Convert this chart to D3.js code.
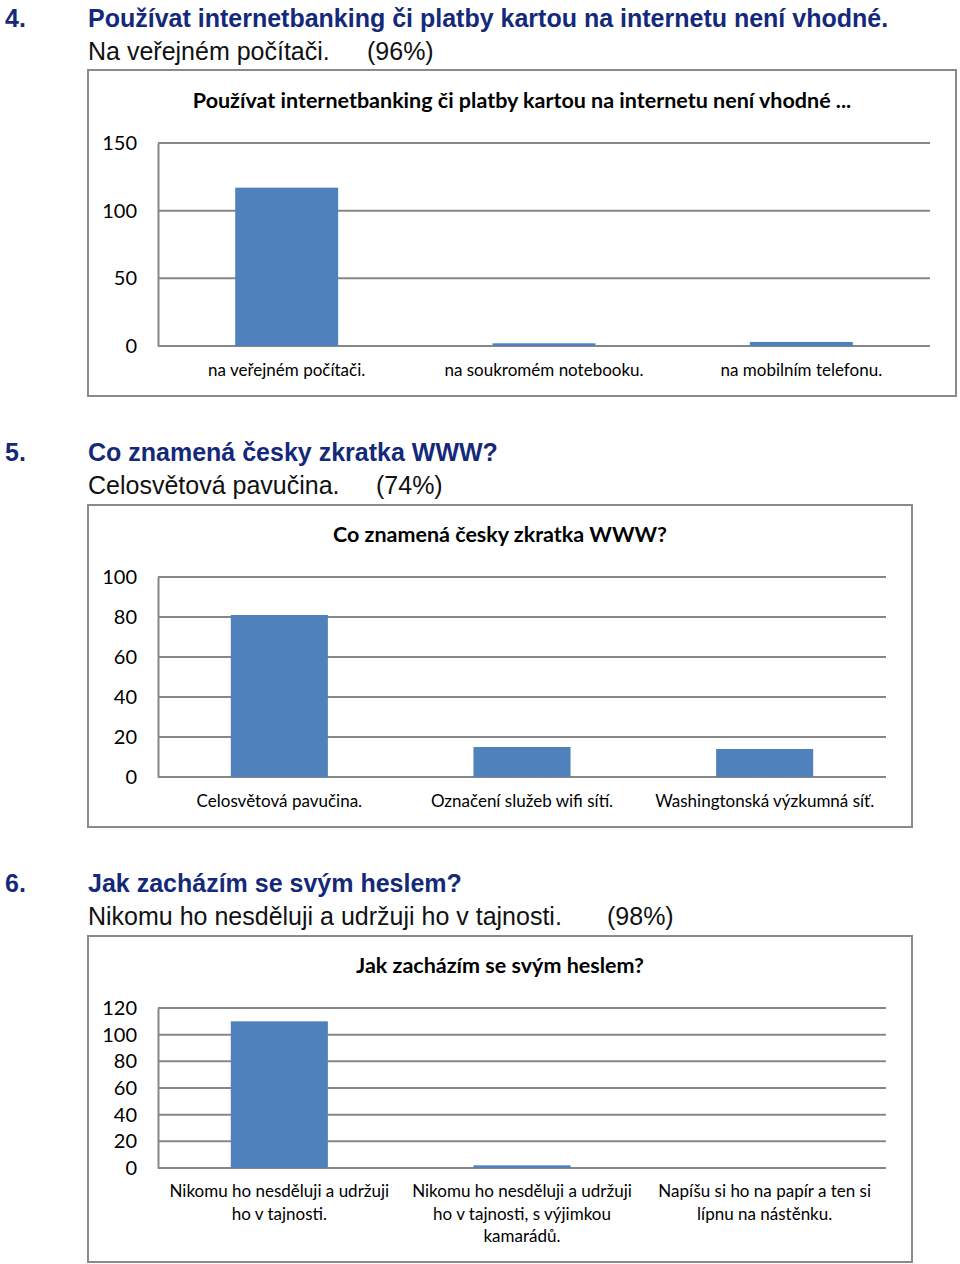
<!DOCTYPE html>
<html><head><meta charset="utf-8">
<script src="https://cdn.jsdelivr.net/npm/d3@7"></script>
<style>
body{margin:0;background:#fff;}
svg{display:block;}
</style></head>
<body>
<svg id="c" width="960" height="1264"></svg>
<script>
// ---- Data ----
const headNumbers = ["4.", "5.", "6."];
const headQuestions = [
  "Používat internetbanking či platby kartou na internetu není vhodné.",
  "Co znamená česky zkratka WWW?",
  "Jak zacházím se svým heslem?"
];
const headAnswers = [
  "Na veřejném počítači.",
  "Celosvětová pavučina.",
  "Nikomu ho nesděluji a udržuji ho v tajnosti."
];
const headPercents = ["(96%)", "(74%)", "(98%)"];

const chartTitles = [
  "Používat internetbanking či platby kartou na internetu není vhodné ...",
  "Co znamená česky zkratka WWW?",
  "Jak zacházím se svým heslem?"
];

const categories1 = ["na veřejném počítači.", "na soukromém notebooku.", "na mobilním telefonu."];
const values1 = [117, 2, 3];
const ticks1 = [0, 50, 100, 150];

const categories2 = ["Celosvětová pavučina.", "Označení služeb wifi sítí.", "Washingtonská výzkumná síť."];
const values2 = [81, 15, 14];
const ticks2 = [0, 20, 40, 60, 80, 100];

const categories3 = [
  "Nikomu ho nesděluji a udržuji\nho v tajnosti.",
  "Nikomu ho nesděluji a udržuji\nho v tajnosti, s výjimkou\nkamarádů.",
  "Napíšu si ho na papír a ten si\nlípnu na nástěnku."
];
const values3 = [110, 2, 0];
const ticks3 = [0, 20, 40, 60, 80, 100, 120];

// ---- Layout ----
const svg = d3.select("#c");
const NAVY = "#14297a";
const GRID = "#878787";
const BAR = "#4f81bd";
const HEAD_FONT = "'Liberation Sans', Arial, sans-serif";
const CHART_FONT = "Lato, 'Open Sans', sans-serif";

const sections = [
  {headY: 27, ansY: 60, pctX: 367,
   box: [88, 70, 956, 396], plot: [158, 930, 143, 346], titleY: 108, labelY: 376,
   cats: categories1, vals: values1, ticks: ticks1},
  {headY: 461, ansY: 494, pctX: 376,
   box: [88, 505, 912, 827], plot: [158, 886, 577, 777], titleY: 542, labelY: 807,
   cats: categories2, vals: values2, ticks: ticks2},
  {headY: 892, ansY: 925, pctX: 607,
   box: [88, 936, 912, 1262], plot: [158, 886, 1008, 1168], titleY: 973, labelY: 1197,
   cats: categories3, vals: values3, ticks: ticks3}
];

sections.forEach((s, i) => {
  // headings
  svg.append("text").attr("x", 5).attr("y", s.headY)
    .attr("font-family", HEAD_FONT).attr("font-weight", "bold").attr("font-size", 25)
    .attr("fill", NAVY).text(headNumbers[i]);
  svg.append("text").attr("x", 88).attr("y", s.headY)
    .attr("font-family", HEAD_FONT).attr("font-weight", "bold").attr("font-size", 25)
    .attr("fill", NAVY).text(headQuestions[i]);
  svg.append("text").attr("x", 88).attr("y", s.ansY)
    .attr("font-family", HEAD_FONT).attr("font-size", 25)
    .attr("fill", "#111").text(headAnswers[i]);
  svg.append("text").attr("x", s.pctX).attr("y", s.ansY)
    .attr("font-family", HEAD_FONT).attr("font-size", 25)
    .attr("fill", "#111").text(headPercents[i]);

  // chart box
  const [bx0, by0, bx1, by1] = s.box;
  svg.append("rect").attr("x", bx0).attr("y", by0)
    .attr("width", bx1 - bx0).attr("height", by1 - by0)
    .attr("fill", "#fff").attr("stroke", "#8a8a8a").attr("stroke-width", 2);

  svg.append("text").attr("x", (bx0 + bx1) / 2).attr("y", s.titleY)
    .attr("text-anchor", "middle").attr("font-family", CHART_FONT)
    .attr("font-weight", "bold").attr("font-size", 21.5).attr("fill", "#000")
    .text(chartTitles[i]);

  const [px0, px1, pyTop, pyBot] = s.plot;
  const x = d3.scaleBand().domain(s.cats).range([px0, px1])
    .paddingInner(0.6).paddingOuter(0.3);
  const y = d3.scaleLinear().domain([0, d3.max(s.ticks)]).range([pyBot, pyTop]);

  const g = svg.append("g");
  // axis + gridlines
  const yAxis = d3.axisLeft(y).tickValues(s.ticks).tickSize(0).tickPadding(21);
  const ga = g.append("g").attr("transform", `translate(${px0},0)`).call(yAxis);
  ga.select(".domain").attr("stroke", GRID).attr("stroke-width", 2);
  ga.selectAll(".tick text").attr("font-family", CHART_FONT).attr("font-size", 20)
    .attr("fill", "#000");
  g.append("g").selectAll("line").data(s.ticks).join("line")
    .attr("x1", px0).attr("x2", px1)
    .attr("y1", d => y(d)).attr("y2", d => y(d))
    .attr("stroke", GRID).attr("stroke-width", 2);

  // bars
  g.append("g").selectAll("rect").data(s.cats).join("rect")
    .attr("x", d => x(d))
    .attr("width", x.bandwidth())
    .attr("y", (d, j) => y(s.vals[j]))
    .attr("height", (d, j) => y(0) - y(s.vals[j]))
    .attr("fill", BAR);

  // category labels
  const lab = g.append("g").selectAll("text").data(s.cats).join("text")
    .attr("text-anchor", "middle").attr("font-family", CHART_FONT)
    .attr("font-size", 17).attr("fill", "#000")
    .attr("transform", d => `translate(${x(d) + x.bandwidth() / 2},${s.labelY})`);
  lab.each(function(d) {
    const lines = d.split("\n");
    d3.select(this).selectAll("tspan").data(lines).join("tspan")
      .attr("x", 0).attr("y", (l, k) => k * 22.5).text(l => l);
  });
});
</script>
</body></html>
